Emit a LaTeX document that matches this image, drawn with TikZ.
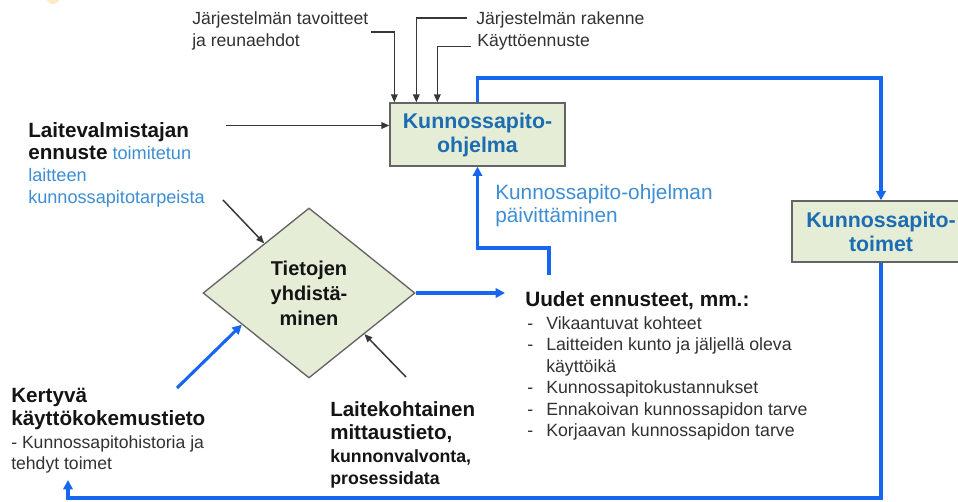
\documentclass[tikz,border=0pt]{standalone}
\usepackage{fontspec}
\setmainfont{Liberation Sans}
\usetikzlibrary{arrows.meta,shapes.geometric,calc}

\definecolor{boxfill}{RGB}{229,237,214}
\definecolor{boxline}{RGB}{100,100,100}
\definecolor{boxblue}{RGB}{28,108,178}
\definecolor{flowblue}{RGB}{22,102,240}
\definecolor{noteblue}{RGB}{62,142,212}
\definecolor{ink}{RGB}{20,20,20}
\definecolor{graytext}{RGB}{50,50,50}
\definecolor{sunspot}{RGB}{246,206,120}

% bold black lead-in used inside mixed-colour text blocks
\newcommand\leadbold[1]{{\fontsize{15.5}{16.5}\selectfont\bfseries\color{ink}#1}}
\newcommand\listdash{\makebox[14.25pt][l]{-}}

\begin{document}
\begin{tikzpicture}[x=0.75pt,y=-0.75pt,
  procbox/.style={draw=boxline, line width=1pt, fill=boxfill, inner sep=0pt,
    align=center, text=boxblue, font=\fontsize{16}{18}\selectfont\bfseries},
  % multi-line texts are placed by the baseline of their last line
  txt/.style={inner sep=0pt, anchor=base west, align=left, text=graytext},
  smalltext/.style={font=\fontsize{13.2}{16.5}\selectfont},
  feed/.style={draw=ink!85, line width=1.1pt, -{Triangle[length=6pt,width=5pt]}},
  flow/.style={draw=flowblue, line width=2.3pt, -{Triangle[length=7pt,width=7pt]}},
]
\useasboundingbox (0,0) rectangle (958,502);
\clip (0,0) rectangle (958,502);
\fill[white] (0,0) rectangle (958,502);
\fill[sunspot, opacity=0.4] (53,-3) circle (7);

% process boxes and the merging step
\node[procbox, minimum width=131.25pt, minimum height=47.25pt] (prog) at (477.5,134.5) {Kunnossapito-\\ohjelma};
\node[procbox, minimum width=133.5pt, minimum height=45.75pt] (acts) at (881,231.5) {Kunnossapito-\\toimet};
\node[diamond, draw=boxline, line width=1pt, fill=boxfill, inner sep=0pt,
      minimum width=159pt, minimum height=127.5pt, align=center, text=ink,
      font=\fontsize{15}{18.75}\selectfont\bfseries] (merge) at (309,293) {Tietojen\\yhdistä-\\minen};

% inputs to the maintenance programme
\node[txt, smalltext] (goals) at (192,47) {Järjestelmän tavoitteet\\ja reunaehdot};
\node[txt, smalltext] (struct) at (476,25) {Järjestelmän rakenne};
\node[txt, smalltext] (usage) at (477,47) {Käyttöennuste};

\node[txt, text=noteblue, font=\fontsize{13.6}{16.5}\selectfont] (maker) at (28,204)
  {\leadbold{Laitevalmistajan}\\\leadbold{ennuste} toimitetun\\laitteen\\kunnossapitotarpeista};

\node[txt, font=\fontsize{13.2}{16.5}\selectfont] (history) at (11,470)
  {\leadbold{Kertyvä}\\[1.5pt]\leadbold{käyttökokemustieto}\\- Kunnossapitohistoria ja\\tehdyt toimet};

\node[txt, text=ink, font=\fontsize{13.3}{17.2}\selectfont\bfseries] (measure) at (330,485)
  {{\fontsize{15.4}{17.2}\selectfont Laitekohtainen}\\{\fontsize{15.4}{17.2}\selectfont mittaustieto,}\\kunnonvalvonta,\\prosessidata};

% new forecasts
\node[txt, text=ink, font=\fontsize{15.6}{18}\selectfont\bfseries] (forecast) at (525,307) {Uudet ennusteet, mm.:};
\node[txt, font=\fontsize{13.3}{16.2}\selectfont] (fclist) at (527,437)
  {\listdash Vikaantuvat kohteet\\
   \listdash Laitteiden kunto ja jäljellä oleva\\
   \hspace*{14.25pt}käyttöikä\\
   \listdash Kunnossapitokustannukset\\
   \listdash Ennakoivan kunnossapidon tarve\\
   \listdash Korjaavan kunnossapidon tarve};

\node[txt, text=noteblue, font=\fontsize{15.6}{17.25}\selectfont] (updlabel) at (495,223)
  {Kunnossapito-ohjelman\\päivittäminen};

% free ends of the connectors
\coordinate (goalsout) at (371,32);
\coordinate (structout) at (467,18);
\coordinate (usageout) at (471,46.5);
\coordinate (makerout) at (226,125.5);
\coordinate (makerdiag) at (223,200);
\coordinate (measout) at (406,377);
\coordinate (histout) at (177,388);
\coordinate (histin) at (68,480);
\coordinate (updstart) at (549,275);
\coordinate (fcin) at (505,293);
\coordinate (toprow) at (0,78);
\coordinate (updrow) at (0,248);
\coordinate (bottomrow) at (0,498);

% black input arrows
\draw[feed] (goalsout) -| ($(prog.north west)+(5,0)$);
\draw[feed] (structout) -| ($(prog.north west)+(27,0)$);
\draw[feed] (usageout) -| ($(prog.north west)+(48,0)$);
\draw[feed] (makerout) -- (makerout -| prog.west);
\draw[feed] (makerdiag) -- ($(merge.west)!0.58!(merge.north)$);
\draw[feed] (measout) -- ($(merge.south)!0.52!(merge.east)$);

% blue information flows
\draw[flow] (prog.north) |- (toprow -| acts.north) -- (acts.north);
\draw[flow] (acts.south) |- (bottomrow -| histin) -- (histin);
\draw[flow] (histout) -- ($(merge.west)!0.37!(merge.south)$);
\draw[flow] (merge.east) -- (fcin);
\draw[flow] (updstart) -- (updstart |- updrow) -| (prog.south);
\end{tikzpicture}
\end{document}
